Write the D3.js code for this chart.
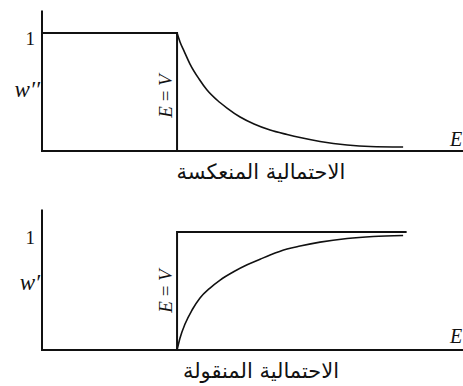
<!DOCTYPE html>
<html>
<head>
<meta charset="utf-8">
<script src="https://cdn.jsdelivr.net/npm/d3@7"></script>
<style>
  html, body { margin: 0; padding: 0; background: #fff; }
  svg { display: block; }
  .serif { font-family: "Liberation Serif", "Times New Roman", serif; }
  .arabic { font-family: "DejaVu Sans", sans-serif; }
</style>
</head>
<body>
<svg id="chart" width="463" height="386"></svg>
<script>
// Energy in units of the barrier height V (E = V at 1)
const barrierE = 1;
const energyMax = 3.11;
const axisTop = 1.19;

// Reflection probability w'' above the barrier
const energyR   = [1.000, 1.022, 1.052, 1.096, 1.163, 1.222, 1.296, 1.370, 1.467, 1.570, 1.689, 1.815, 1.911, 2.059, 2.259, 2.430, 2.674];
const reflected = [1.000, 0.924, 0.847, 0.737, 0.610, 0.517, 0.432, 0.364, 0.288, 0.229, 0.178, 0.140, 0.114, 0.081, 0.051, 0.038, 0.034];

// Transmission probability w' above the barrier
const energyT     = [1.000, 1.022, 1.059, 1.111, 1.170, 1.244, 1.319, 1.422, 1.519, 1.615, 1.689, 1.815, 1.911, 2.059, 2.259, 2.452, 2.674];
const transmitted = [0.000, 0.102, 0.220, 0.339, 0.441, 0.525, 0.593, 0.665, 0.722, 0.769, 0.805, 0.856, 0.881, 0.914, 0.945, 0.962, 0.970];

// Classical step for the transmitted case ends where the curve ends
const stepEndE = 2.70;

const tickLabels = ["1"];
const yLabels = ["w\u2032\u2032", "w\u2032"];
const captions = ["الاحتمالية المنعكسة", "الاحتمالية المنقولة"];

const svg = d3.select("#chart");
const ink = "#111";

const x = d3.scaleLinear().domain([0, energyMax]).range([42, 462]);

const panels = [
  { y: d3.scaleLinear().domain([0, 1]).range([151, 33]), label: yLabels[0], caption: captions[0],
    step: [[0, 1], [barrierE, 1], [barrierE, 0]],
    curve: energyR.map((e, i) => [e, reflected[i]]),
    labelY: 97, evY: 96, eY: 146, capY: 179 },
  { y: d3.scaleLinear().domain([0, 1]).range([350, 232]), label: yLabels[1], caption: captions[1],
    step: [[barrierE, 0], [barrierE, 1], [stepEndE, 1]],
    curve: energyT.map((e, i) => [e, transmitted[i]]),
    labelY: 290, evY: 291, eY: 343, capY: 378 }
];

panels.forEach(p => {
  const g = svg.append("g");
  // axes
  g.append("line")
    .attr("x1", x(0)).attr("x2", x(0))
    .attr("y1", p.y(axisTop)).attr("y2", p.y(0) + 1)
    .attr("stroke", ink).attr("stroke-width", 2);
  g.append("line")
    .attr("x1", x(0) - 1).attr("x2", x(energyMax) + 1)
    .attr("y1", p.y(0)).attr("y2", p.y(0))
    .attr("stroke", ink).attr("stroke-width", 2);

  // step (classical) curve
  g.append("path")
    .attr("d", d3.line().x(d => x(d[0])).y(d => p.y(d[1]))(p.step))
    .attr("fill", "none").attr("stroke", ink).attr("stroke-width", 2);

  // quantum curve
  g.append("path")
    .attr("d", d3.line().x(d => x(d[0])).y(d => p.y(d[1])).curve(d3.curveMonotoneX)(p.curve))
    .attr("fill", "none").attr("stroke", ink).attr("stroke-width", 1.6);

  // tick label 1
  g.append("text").attr("class", "serif")
    .attr("x", x(0) - 7).attr("y", p.y(1) + 12)
    .attr("text-anchor", "end")
    .attr("font-size", 19).attr("fill", ink)
    .text(tickLabels[0]);

  // y label
  g.append("text").attr("class", "serif")
    .attr("x", x(0) - 2).attr("y", p.labelY)
    .attr("text-anchor", "end")
    .attr("font-style", "italic").attr("font-size", 23).attr("fill", ink)
    .text(p.label);

  // E = V marker label
  const ev = g.append("text").attr("class", "serif")
    .attr("transform", `translate(${x(barrierE) - 5},${p.evY}) rotate(-90)`)
    .attr("text-anchor", "middle")
    .attr("font-size", 19).attr("fill", ink);
  ev.append("tspan").attr("font-style", "italic").text("E");
  ev.append("tspan").text(" = ");
  ev.append("tspan").attr("font-style", "italic").text("V");

  // axis name
  g.append("text").attr("class", "serif")
    .attr("x", 456).attr("y", p.eY)
    .attr("text-anchor", "middle")
    .attr("font-style", "italic").attr("font-size", 20).attr("fill", ink)
    .text("E");

  // caption
  g.append("text").attr("class", "arabic")
    .attr("x", 261).attr("y", p.capY)
    .attr("text-anchor", "middle")
    .attr("direction", "rtl")
    .attr("font-size", 21).attr("fill", ink)
    .text(p.caption);
});
</script>
</body>
</html>
